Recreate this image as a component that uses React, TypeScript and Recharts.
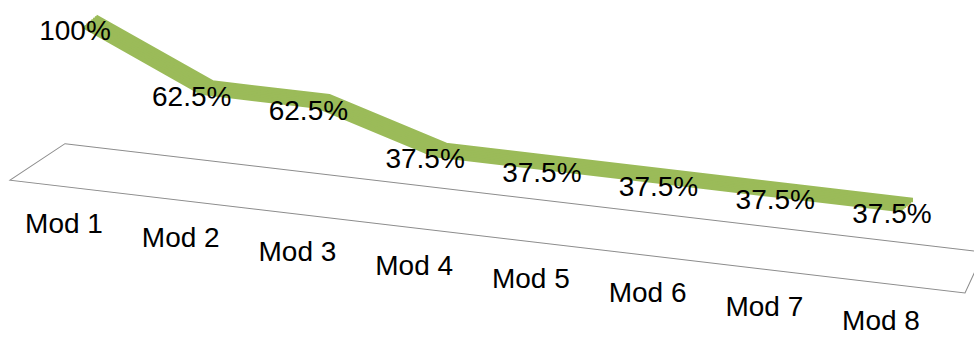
import React from 'react';
import {
  LineChart, Line, XAxis, YAxis, ReferenceArea, LabelList
} from 'recharts';

const categories = ['Mod 1', 'Mod 2', 'Mod 3', 'Mod 4', 'Mod 5', 'Mod 6', 'Mod 7', 'Mod 8'];
const passRates = [100, 62.5, 62.5, 37.5, 37.5, 37.5, 37.5, 37.5];

const data = categories.map((name, i) => ({ name, rate: passRates[i] }));

// the Excel 3-D look: whole chart is sheared, text gets un-sheared
const TILT = 0.118;
const ANGLE = (Math.atan(TILT) * 180) / Math.PI;
const GREEN = '#9BBB59';
const FONT = '"Liberation Sans", Arial, sans-serif';

// ribbon depth, drawn as several overlapping copies of the line
const DEPTH_X = -12;
const DEPTH_Y = 11.5;
const layers = [-0.5, -0.357, -0.214, -0.071, 0.071, 0.214, 0.357, 0.5];

const ModTick = ({ x, y, payload }: any) => (
  <g transform={`translate(${x - 26},${y + 75.5}) skewY(${-ANGLE})`}>
    <text textAnchor="middle" fontFamily={FONT} fontSize={28} fill="#000">
      {payload.value}
    </text>
  </g>
);

const RateLabel = ({ x, y, value }: any) => (
  <g transform={`translate(${x - 15},${y + 20}) skewY(${-ANGLE})`}>
    <text textAnchor="middle" fontFamily={FONT} fontSize={28} fill="#000">
      {`${value}%`}
    </text>
  </g>
);

const Floor = ({ x, y, width, height }: any) => (
  <polygon
    points={`${x - 25},${y} ${x + width + 77},${y} ${x + width + 58},${y + height} ${x - 80},${y + height}`}
    fill="none"
    stroke="#8c8c8c"
    strokeWidth={1}
  />
);

export default function App() {
  return (
    <div style={{ position: 'absolute', left: 0, top: 0, width: 974, height: 337, overflow: 'hidden', background: '#fff' }}>
      <div style={{ width: 1000, height: 340, transform: `skewY(${ANGLE}deg)`, transformOrigin: '0 0' }}>
        <LineChart width={1000} height={340} data={data} margin={{ top: 11, right: 93, bottom: 129.8, left: 90 }}>
          <XAxis dataKey="name" height={60} tick={<ModTick />} tickLine={false} axisLine={false} tickSize={0} tickMargin={0} interval={0} />
          <YAxis hide domain={[0, 100]} />
          {layers.map((t, i) => (
            <XAxis key={`xa${i}`} xAxisId={`x${i}`} dataKey="name" hide padding={{ left: DEPTH_X * t, right: -DEPTH_X * t }} />
          ))}
          {layers.map((t, i) => (
            <YAxis key={`ya${i}`} yAxisId={`y${i}`} hide domain={[0, 100]} padding={{ top: DEPTH_Y * t, bottom: -DEPTH_Y * t }} />
          ))}
          <ReferenceArea x1="Mod 1" x2="Mod 8" y1={10.2} y2={-20.7} ifOverflow="visible" shape={<Floor />} />
          {layers.map((t, i) => (
            <Line
              key={`ln${i}`}
              xAxisId={`x${i}`}
              yAxisId={`y${i}`}
              dataKey="rate"
              stroke={GREEN}
              strokeWidth={4.5}
              strokeLinejoin="miter"
              dot={false}
              activeDot={false}
              isAnimationActive={false}
            />
          ))}
          <Line dataKey="rate" stroke="none" dot={false} activeDot={false} isAnimationActive={false}>
            <LabelList dataKey="rate" content={<RateLabel />} />
          </Line>
        </LineChart>
      </div>
    </div>
  );
}
